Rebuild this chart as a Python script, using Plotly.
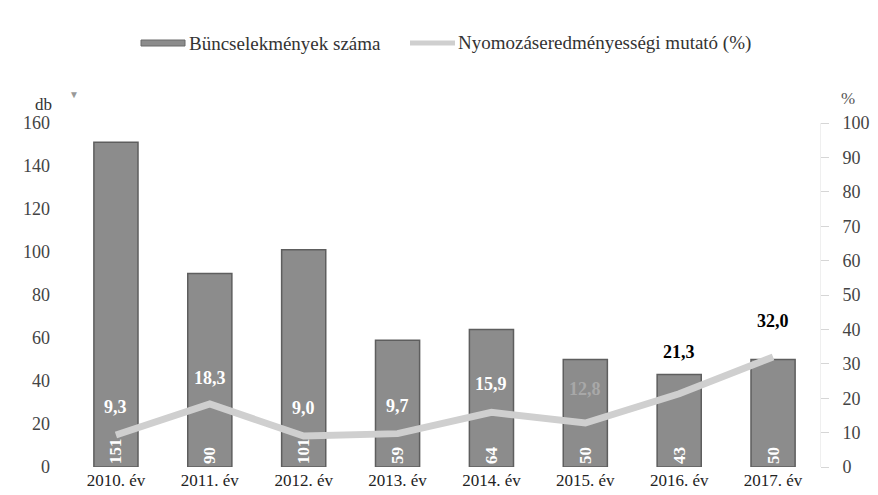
import plotly.graph_objects as go

categories = ["2010. év", "2011. év", "2012. év", "2013. év", "2014. év", "2015. év", "2016. év", "2017. év"]
crimes = [151, 90, 101, 59, 64, 50, 43, 50]
rate = [9.3, 18.3, 9.0, 9.7, 15.9, 12.8, 21.3, 32.0]
rate_labels = ["9,3", "18,3", "9,0", "9,7", "15,9", "12,8", "21,3", "32,0"]
rate_label_colors = ["white", "white", "white", "white", "white", "#a8a8a8", "black", "black"]
rate_label_shift = [28, 26, 28, 28, 28, 34, 42, 36]
left_ticks = [0, 20, 40, 60, 80, 100, 120, 140, 160]
right_ticks = [0, 10, 20, 30, 40, 50, 60, 70, 80, 90, 100]
legend_names = ["Büncselekmények száma", "Nyomozáseredményességi mutató (%)"]

FONT = "Liberation Serif"
BAR_COLOR = "#8c8c8c"
LINE_COLOR = "#cfcfcf"

# plot area in pixels (for converting legend placement to paper coords)
W, H = 878, 495
L, R, T, B = 61, 66, 115, 36
PW, PH = W - L - R, H - T - B


def px(x):
    return (x - L) / PW


def py(y):
    return (H - B - y) / PH


fig = go.Figure()
fig.add_trace(go.Bar(
    x=categories, y=crimes, name=legend_names[0],
    marker=dict(color=BAR_COLOR, line=dict(color="#5e5e5e", width=1.5)),
    width=0.47,
    text=[str(v) for v in crimes], textposition="inside", insidetextanchor="start",
    textangle=-90, textfont=dict(family=FONT, size=17, color="white", weight="bold"),
    showlegend=False,
))
fig.add_trace(go.Scatter(
    x=categories, y=rate, name=legend_names[1], yaxis="y2",
    mode="lines", line=dict(color=LINE_COLOR, width=7), showlegend=False,
))

for c, v, t, col, sh in zip(categories, rate, rate_labels, rate_label_colors, rate_label_shift):
    fig.add_annotation(x=c, y=v, yref="y2", text=f"<b>{t}</b>", showarrow=False,
                       yshift=sh, font=dict(family=FONT, size=18, color=col))

# axis unit labels
fig.add_annotation(xref="paper", yref="paper", x=px(35), y=py(97), text="db", showarrow=False,
                   xanchor="center", yanchor="middle", font=dict(family=FONT, size=17, color="#333"))
fig.add_annotation(xref="paper", yref="paper", x=px(840), y=py(90), text="%", showarrow=False,
                   xanchor="center", yanchor="middle", font=dict(family=FONT, size=17, color="#555"))
# small marker under the logo
fig.add_annotation(xref="paper", yref="paper", x=px(66), y=py(86), text="▼", showarrow=False,
                   xanchor="center", yanchor="middle", font=dict(size=10, color="#999"))

# custom legend
fig.add_shape(type="rect", xref="paper", yref="paper", x0=px(133), x1=px(177), y0=py(38), y1=py(32),
              fillcolor=BAR_COLOR, line=dict(color="#6a6a6a", width=1))
fig.add_annotation(xref="paper", yref="paper", x=px(179), y=py(35), text=legend_names[0], showarrow=False,
                   xanchor="left", yanchor="middle", font=dict(family=FONT, size=19, color="#333"))
fig.add_shape(type="line", xref="paper", yref="paper", x0=px(402), x1=px(447), y0=py(35), y1=py(35),
              line=dict(color=LINE_COLOR, width=5))
fig.add_annotation(xref="paper", yref="paper", x=px(448), y=py(35), text=legend_names[1], showarrow=False,
                   xanchor="left", yanchor="middle", font=dict(family=FONT, size=19, color="#333"))

fig.update_layout(
    width=W, height=H,
    margin=dict(l=L, r=R, t=T, b=B),
    paper_bgcolor="white", plot_bgcolor="white",
    font=dict(family=FONT, size=18, color="#333"),
    showlegend=False,
    xaxis=dict(showline=False, ticks="", automargin=False, ticklabelstandoff=1,
               tickfont=dict(family=FONT, size=17, color="#222")),
    yaxis=dict(range=[0, 160], tickvals=left_ticks, showgrid=False, zeroline=False, automargin=False,
               tickfont=dict(family=FONT, size=18, color="#444"), ticklabelstandoff=18),
    yaxis2=dict(range=[0, 100], tickvals=right_ticks, overlaying="y", side="right", automargin=False,
                showgrid=False, zeroline=False, showline=True, linecolor="#efefef",
                linewidth=1, ticks="outside", ticklen=8, tickcolor="#d6d6d6",
                tickfont=dict(family=FONT, size=18, color="#444"), ticklabelstandoff=10),
)

fig.write_html("out.html")
